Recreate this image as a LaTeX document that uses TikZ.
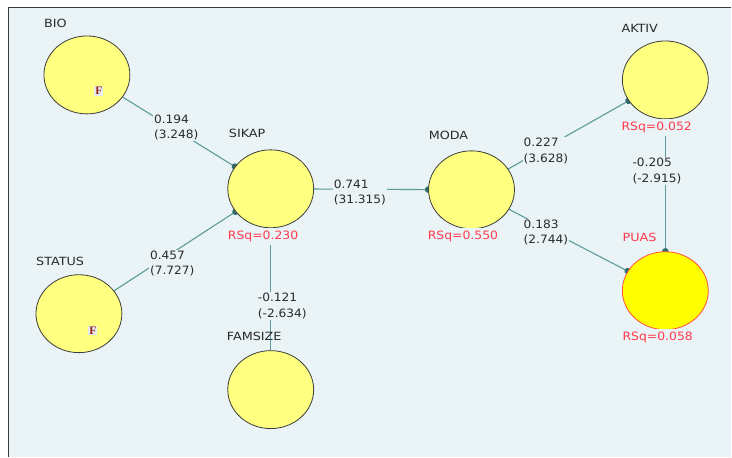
\documentclass[tikz,border=0pt]{standalone}
\usepackage{fontspec}
\setmainfont{DejaVu Sans}
\newfontfamily\namefont{DejaVu Sans}[FakeStretch=1.13]
\newfontfamily\numfont{DejaVu Sans}[FakeStretch=1.06]
\newfontfamily\rsqfont{DejaVu Sans}[FakeStretch=1.08]
\newfontfamily\markfont{Liberation Serif}
\usetikzlibrary{shapes.geometric,arrows.meta}
\definecolor{bgc}{HTML}{EAF3F5}
\definecolor{framec}{HTML}{3A3A3A}
\definecolor{lvfill}{HTML}{FFFF80}
\definecolor{lvdraw}{HTML}{3C3C3C}
\definecolor{puasfill}{HTML}{FFFF00}
\definecolor{puasdraw}{HTML}{FF5040}
\definecolor{rsqc}{HTML}{FF3A4C}
\definecolor{txtc}{HTML}{2A2A2A}
\definecolor{edgec}{HTML}{5C9C9C}
\definecolor{dotc}{HTML}{2E6F6E}
\definecolor{fc}{HTML}{8E2418}
\definecolor{fbg}{HTML}{E8EAEE}
\pgfdeclarelayer{bglayer}
\pgfdeclarelayer{edgelayer}
\pgfsetlayers{bglayer,edgelayer,main}
\begin{document}
\begin{tikzpicture}[x=1pt,y=-1pt,
  lv/.style={ellipse,minimum width=86pt,minimum height=78pt,inner sep=0pt,fill=lvfill,draw=lvdraw,line width=0.8pt},
  lvname/.style={text=txtc,font=\namefont\fontsize{11.3}{13}\selectfont,inner sep=0pt},
  rsq/.style={text=rsqc,font=\rsqfont\fontsize{11.5}{13}\selectfont,inner xsep=1pt,inner ysep=3pt,fill=bgc},
  coef/.style={anchor=west,align=left,text=txtc,font=\numfont\fontsize{11.5}{15.5}\selectfont,inner sep=1pt,fill=bgc},
  pathline/.style={draw=edgec,line width=1.1pt,-{Circle[length=6.5pt,width=6.5pt,fill=dotc,color=dotc]},shorten >=-3.25pt},
  plainline/.style={draw=edgec,line width=1.1pt},
  fmark/.style={text=fc,fill=fbg,inner sep=1pt,font=\markfont\bfseries\fontsize{11.5}{11.5}\selectfont}
]
\begin{pgfonlayer}{bglayer}
  \fill[white] (0,0) rectangle (732,457);
  \fill[bgc] (9,8) rectangle (732,457);
  \draw[framec,line width=1.5pt] (8.75,457) -- (8.75,7.75) -- (732,7.75);
\end{pgfonlayer}
\useasboundingbox (0,0) rectangle (732,457);

% latent variables
\node[lv] (bio) at (87,75) {};
\node[lv] (sikap) at (271,189) {};
\node[lv] (moda) at (472,190) {};
\node[lv] (aktiv) at (666,80) {};
\node[lv,fill=puasfill,draw=puasdraw] (puas) at (666,291) {};
\node[lv] (status) at (79,314) {};
\node[lv] (famsize) at (271,390) {};

% names
\node[lvname,anchor=west] (bioL) at (44,23) {BIO};
\node[lvname,anchor=west] (sikapL) at (229,134) {SIKAP};
\node[lvname,anchor=west] (modaL) at (429,136) {MODA};
\node[lvname,anchor=west] (aktivL) at (622,28) {AKTIV};
\node[lvname,anchor=west,text=rsqc] (puasL) at (623,238) {PUAS};
\node[lvname,anchor=west] (statusL) at (36,262) {STATUS};
\node[lvname,anchor=west] (famsizeL) at (227,337) {FAMSIZE};

% F markers
\node[fmark] (bioF) at (99,91) {F};
\node[fmark] (statusF) at (93,331) {F};

% paths
\begin{pgfonlayer}{edgelayer}
  \draw[pathline] (bio) -- (sikap);
  \draw[pathline] (status) -- (sikap);
  \draw[plainline] (famsize) -- (sikap);
  \draw[pathline] (sikap) -- (moda);
  \draw[pathline] (moda) -- (aktiv);
  \draw[pathline] (moda) -- (puas);
  \draw[pathline] (aktiv) -- (puas);
\end{pgfonlayer}

% R squared
\node[rsq,anchor=west] (sikapR) at (227,237) {RSq=0.230};
\node[rsq,anchor=west] (modaR) at (427,237) {RSq=0.550};
\node[rsq,anchor=west] (aktivR) at (621,128) {RSq=0.052};
\node[rsq,anchor=west] (puasR) at (622,338) {RSq=0.058};

% coefficients
\node[coef] (c1) at (153,127.5) {0.194\\(3.248)};
\node[coef] (c2) at (333,192.5) {0.741\\(31.315)};
\node[coef] (c3) at (257,306.5) {-0.121\\(-2.634)};
\node[coef] (c4) at (149,264) {0.457\\(7.727)};
\node[coef] (c5) at (523,151) {0.227\\(3.628)};
\node[coef] (c6) at (632,171) {-0.205\\(-2.915)};
\node[coef] (c7) at (523,232.5) {0.183\\(2.744)};
\end{tikzpicture}
\end{document}
